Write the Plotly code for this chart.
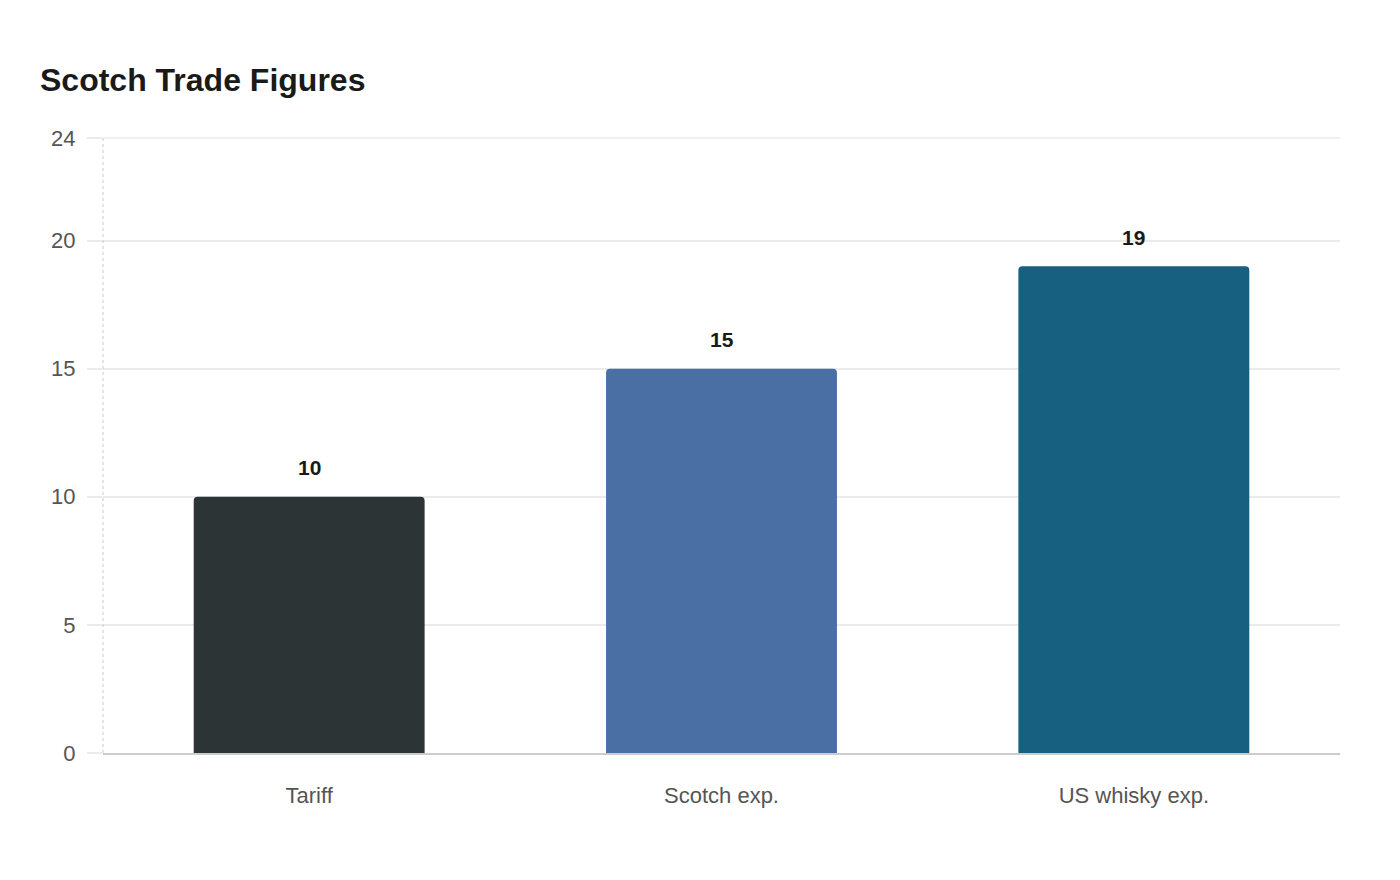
import plotly.graph_objects as go

categories = ["Tariff", "Scotch exp.", "US whisky exp."]
values = [10, 15, 19]
bar_colors = ["#2d3436", "#4a6fa5", "#17607f"]
y_ticks = [0, 5, 10, 15, 20, 24]

fig = go.Figure()
fig.add_trace(go.Bar(
    x=categories, y=values,
    marker=dict(color=bar_colors, line=dict(width=0)),
    hoverinfo="x+y", showlegend=False,
))

for c, v in zip(categories, values):
    fig.add_annotation(x=c, y=v, text=f"<b>{v}</b>", showarrow=False,
                       yshift=29, font=dict(size=21, color="#1a1a1a"))

# dotted left axis line and top gridline (plotly skips grid at range edge)
fig.add_shape(type="line", xref="paper", yref="paper", x0=0, x1=0, y0=0, y1=1,
              line=dict(color="#c8c8c8", width=1, dash="dot"), layer="above")
fig.add_shape(type="line", xref="paper", yref="paper", x0=0, x1=1, y0=1, y1=1,
              line=dict(color="#ebebeb", width=1.5), layer="below")

fig.update_layout(
    width=1400, height=880,
    paper_bgcolor="white", plot_bgcolor="white",
    font=dict(family="Liberation Sans, Arial, sans-serif"),
    title=dict(text="<b>Scotch Trade Figures</b>", x=32 / 1400, xref="container",
               xanchor="left", y=1 - 72 / 880, yref="container", yanchor="middle",
               font=dict(size=32, color="#1a1a1a")),
    margin=dict(l=95, r=68, t=130, b=135),
    bargap=0.44,
    barcornerradius=4,
)
fig.update_xaxes(
    showgrid=False, showline=True, linecolor="#cccccc", linewidth=1.5,
    ticks="", ticklabelstandoff=22,
    tickfont=dict(size=22, color="#555555"),
)
fig.update_yaxes(
    range=[0, 24], tickvals=y_ticks, showgrid=True, gridcolor="#ebebeb",
    gridwidth=1.5, zeroline=False, showline=False,
    ticks="outside", ticklen=15, tickcolor="#ebebeb", tickwidth=1.5,
    ticklabelstandoff=7,
    tickfont=dict(size=22, color="#555555"),
)

fig.write_html("out.html")
